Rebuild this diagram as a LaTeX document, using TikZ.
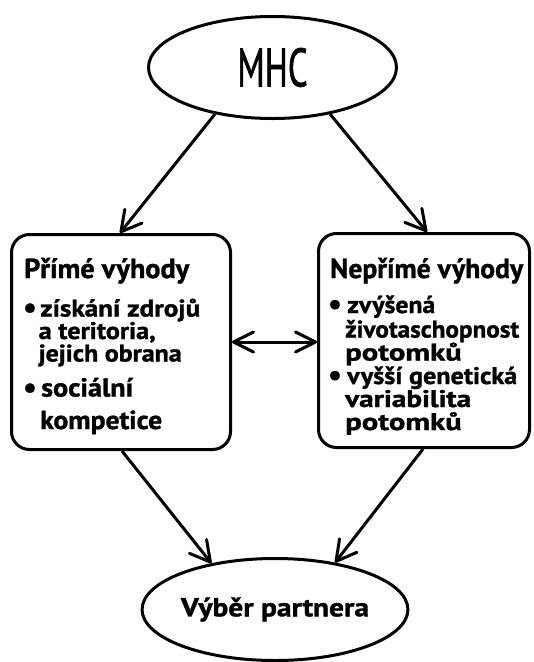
\documentclass[tikz,border=0pt]{standalone}
\usepackage{fontspec}
\usepackage{graphicx}
\setmainfont{PT Sans}[BoldFeatures={FakeBold=1.2}]
\usetikzlibrary{shapes.geometric,arrows.meta,calc}
\tikzset{
  ell/.style={draw, ellipse, line width=3pt, minimum width=248pt, minimum height=102pt, inner sep=0pt},
  bx/.style={draw, rectangle, rounded corners=18pt, line width=3pt, inner sep=0pt},
  txt/.style={anchor=base west, inner sep=0pt, font=\bfseries},
  txs/.style={anchor=base west, inner sep=0pt, font=\fontsize{24}{24}\selectfont\bfseries},
  arr/.style={line width=3pt, -{Straight Barb[length=20pt,width=22pt,round]}},
  darr/.style={line width=3pt, {Straight Barb[length=20pt,width=20pt,round]}-{Straight Barb[length=20pt,width=20pt,round]}}
}
% fit a text line to a given width, keeping its height
\newsavebox{\fitbox}
\newcommand{\fitw}[3]{{\fontsize{#2}{#2}\selectfont\bfseries
  \sbox{\fitbox}{#3}%
  \pgfmathsetmacro{\fitfac}{#1/\the\wd\fitbox}%
  \scalebox{\fitfac}[1]{\usebox{\fitbox}}}}
% bullet hanging to the left of the text start
\newcommand{\bul}[1]{\llap{\makebox[#1][l]{\raisebox{-1pt}{\fontsize{30}{30}\selectfont\bfseries •}}}}
\begin{document}
\begin{tikzpicture}[x=1pt,y=-1pt]
\useasboundingbox (0,0) rectangle (534,662);
\node[ell] (mhc) at (272.5,67.5) {\scalebox{0.64}[1]{\fontsize{54}{54}\selectfont\addfontfeatures{FakeBold=1.5}MHC}};
\node[ell] (vp) at (275,609.5) {\fitw{188pt}{26}{Výběr partnera}};
\node[bx, minimum width=219pt, minimum height=215pt] (lbox) at (121,342) {};
\node[bx, minimum width=211pt, minimum height=214pt] (rbox) at (424,340.5) {};
% left box text
\node[txt] (l1) at (24,278) {\fitw{165pt}{27.5}{Přímé výhody}};
\node[txt] (l2) at (40,316.5) {\bul{17pt}\fitw{160pt}{24}{získání zdrojů}};
\node[txt] (l3) at (38.5,339) {\fitw{117pt}{24}{a teritoria,}};
\node[txt] (l4) at (38.5,361.5) {\fitw{143pt}{24}{jejich obrana}};
\node[txt] (l5) at (41,396.5) {\bul{18pt}\fitw{92pt}{26}{sociální}};
\node[txt] (l6) at (40,429) {\fitw{122pt}{26}{kompetice}};
% right box text
\node[txt] (r1) at (330,278) {\fitw{193pt}{27.5}{Nepřímé výhody}};
\node[txt] (r2) at (347,313) {\bul{19pt}\fitw{88pt}{24}{zvýšená}};
\node[txt] (r3) at (345,337.5) {\fitw{174pt}{24}{životaschopnost}};
\node[txs] (r4) at (345,360.5) {\scalebox{1.28}[1]{potomků}};
\node[txt] (r5) at (347,384) {\bul{19pt}\fitw{170pt}{24}{vyšší genetická}};
\node[txs] (r6) at (345,407) {\scalebox{1.22}[1]{variabilita}};
\node[txs] (r7) at (345,430) {\scalebox{1.28}[1]{potomků}};
% connectors
\draw[arr] (mhc.219) -- ($(lbox.north)+(-1,0)$);
\draw[arr] (mhc.321) -- ($(rbox.north)+(3,0)$);
\draw[arr] ($(lbox.south)+(1,0)$) -- (vp.144);
\draw[arr] ($(rbox.south)+(-1,0)$) -- (vp.38);
\draw[darr] (lbox.east) -- (lbox.east -| rbox.west);
\end{tikzpicture}
\end{document}
